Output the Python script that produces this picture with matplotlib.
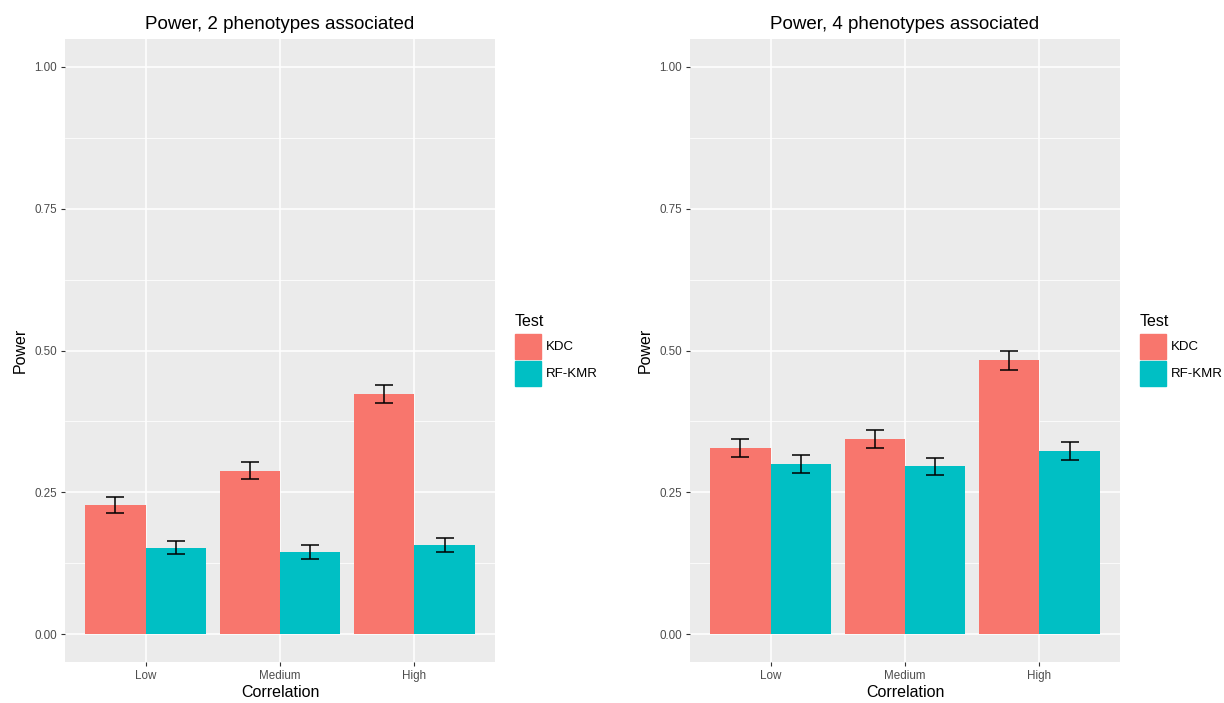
#!/usr/bin/env python3
"""Power of KDC vs RF-KMR, two ggplot-style panels."""

import matplotlib
matplotlib.use("Agg")
import matplotlib.pyplot as plt
from matplotlib.patches import Rectangle
import numpy as np

plt.rcParams["font.family"] = ["Liberation Sans", "DejaVu Sans"]

categories = ["Low", "Medium", "High"]
tests = ["KDC", "RF-KMR"]
colors = {"KDC": "#F8766D", "RF-KMR": "#00BFC4"}

# panel 1: 2 phenotypes associated
power_2 = {"KDC": [0.228, 0.288, 0.423], "RF-KMR": [0.153, 0.145, 0.157]}
err_2 = {"KDC": [0.014, 0.015, 0.016], "RF-KMR": [0.012, 0.012, 0.012]}
# panel 2: 4 phenotypes associated
power_4 = {"KDC": [0.328, 0.344, 0.483], "RF-KMR": [0.300, 0.296, 0.323]}
err_4 = {"KDC": [0.016, 0.016, 0.017], "RF-KMR": [0.016, 0.015, 0.016]}

yticks = [0.0, 0.25, 0.5, 0.75, 1.0]
ytick_labels = ["0.00", "0.25", "0.50", "0.75", "1.00"]

W, H = 1224, 703
fig = plt.figure(figsize=(W / 100, H / 100), dpi=100)


def px_axes(x0, y0, x1, y1):
    return fig.add_axes([x0 / W, 1 - y1 / H, (x1 - x0) / W, (y1 - y0) / H])


def draw_panel(ax, power, err, title):
    ax.set_facecolor("#EBEBEB")
    for s in ax.spines.values():
        s.set_visible(False)
    x = np.arange(1, len(categories) + 1)
    bw = 0.45
    for i, t in enumerate(tests):
        xs = x + (i - 0.5) * bw
        ax.bar(xs, power[t], width=bw, color=colors[t], zorder=3)
        ax.errorbar(xs, power[t], yerr=err[t], fmt="none", ecolor="black",
                    elinewidth=1.1, capsize=6.3, capthick=1.1, zorder=4)
    # grid
    for yv in np.arange(0.125, 1.0, 0.25):
        ax.axhline(yv, color="white", lw=0.55, zorder=1)
    for yv in yticks:
        ax.axhline(yv, color="white", lw=1.1, zorder=1)
    for xv in x:
        ax.axvline(xv, color="white", lw=1.1, zorder=1)
    ax.set_xlim(0.4, 3.6)
    ax.set_ylim(-0.0485, 1.0485)
    ax.set_xticks(x)
    ax.set_xticklabels(categories)
    ax.set_yticks(yticks)
    ax.set_yticklabels(ytick_labels)
    ax.tick_params(axis="both", labelsize=8.4, labelcolor="#4D4D4D",
                   color="#333333", length=2.75, width=0.8, pad=3)
    ax.set_xlabel("Correlation", fontsize=11.5, labelpad=2)
    ax.set_ylabel("Power", fontsize=11.5, labelpad=5)
    ax.set_title(title, fontsize=13.5, pad=7)


def draw_legend(x0, y0):
    fig.text(x0 / W, 1 - y0 / H, "Test", fontsize=11.5, va="center", ha="left")
    for i, t in enumerate(tests):
        top = y0 + 13 + i * 27
        fig.patches.append(Rectangle((x0 / W, 1 - (top + 25) / H), 26 / W, 25 / H,
                                     transform=fig.transFigure, color=colors[t]))
        fig.text((x0 + 31) / W, 1 - (top + 13) / H, t, fontsize=9.5,
                 va="center", ha="left")


ax1 = px_axes(65, 39, 495, 662)
draw_panel(ax1, power_2, err_2, "Power, 2 phenotypes associated")
draw_legend(515, 321)

ax2 = px_axes(690, 39, 1120, 662)
draw_panel(ax2, power_4, err_4, "Power, 4 phenotypes associated")
draw_legend(1140, 321)

fig.savefig("out.png", dpi=100)
